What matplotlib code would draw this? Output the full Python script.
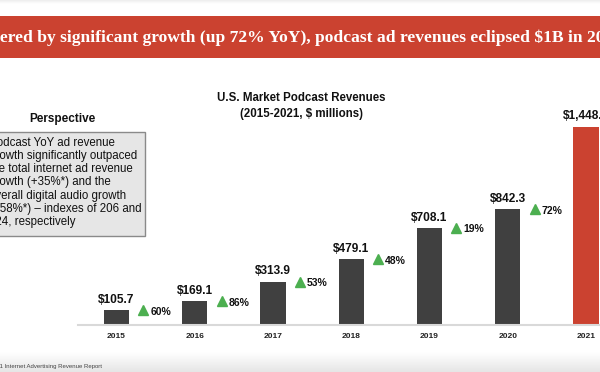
import matplotlib
matplotlib.use("Agg")
import matplotlib.pyplot as plt
import matplotlib.patches as mpatches
import numpy as np

# ---- data ---------------------------------------------------------------
years = ["2015", "2016", "2017", "2018", "2019", "2020", "2021"]
revenue = [105.7, 169.1, 313.9, 479.1, 708.1, 842.3, 1448.0]
value_labels = ["$105.7", "$169.1", "$313.9", "$479.1", "$708.1", "$842.3", "$1,448.0"]
growth = ["60%", "86%", "53%", "48%", "19%", "72%"]

headline = "Powered by significant growth (up 72% YoY), podcast ad revenues eclipsed $1B in 2021"
headline_cut = "Pow"          # hidden past the left edge of the slide crop
headline_seen = "Powered by significant growth (up 72% YoY), podcast ad revenues eclipsed $1B in 2"
chart_title = "U.S. Market Podcast Revenues\n(2015-2021, $ millions)"
box_title = "Perspective"
box_lines = [
    "Podcast YoY ad revenue",
    "growth significantly outpaced",
    "the total internet ad revenue",
    "growth (+35%*) and the",
    "overall digital audio growth",
    "(+58%*) \u2013 indexes of 206 and",
    "124, respectively",
]
footnote = "Source: IAB 2021 Internet Advertising Revenue Report"
footnote_cut = "Source: IAB 202"

DARK = "#404040"
RED = "#cb4230"
GREEN = "#4caf50"

W, H = 600, 372
fig = plt.figure(figsize=(W / 100, H / 100), dpi=100)
fig.patch.set_facecolor("white")
renderer = fig.canvas.get_renderer()


def fx(px):
    return px / W


def fy(py):  # py measured from the top
    return 1 - py / H


def text_width(s, **kw):
    t = fig.text(0, 0, s, **kw)
    w = t.get_window_extent(renderer).width
    t.remove()
    return w


# ---- background pieces ----------------------------------------------------
bg = fig.add_axes([0, 0, 1, 1], zorder=-5)
bg.set_axis_off()
top_grad = np.linspace(0.93, 1.0, 20).reshape(-1, 1)
bg.imshow(top_grad, cmap="gray", vmin=0, vmax=1, extent=[0, W, 4, 0], aspect="auto")
bot_grad = np.linspace(1.0, 0.9, 40).reshape(-1, 1)
bg.imshow(bot_grad, cmap="gray", vmin=0, vmax=1, extent=[0, W, H, 352], aspect="auto")
bg.add_patch(mpatches.Rectangle((0, 16), W, 42, color=RED, lw=0))
bg.set_xlim(0, W)
bg.set_ylim(H, 0)

# headline: size it so "ered ... in 2" + half of "0" fills the slide width
hl_kw = dict(fontweight="bold", family="Liberation Serif", color="white")
seen = (text_width(headline_seen, fontsize=10, **hl_kw)
        - text_width(headline_cut, fontsize=10, **hl_kw)
        + 0.5 * text_width("0", fontsize=10, **hl_kw))
hl_size = 10 * W / seen
off = text_width(headline_cut, fontsize=hl_size, **hl_kw)
fig.text(fx(-off), fy(38), headline, ha="left", va="center", fontsize=hl_size, **hl_kw)

# ---- perspective box ------------------------------------------------------
fig.text(fx(62), fy(119), box_title, ha="center", va="center",
         fontsize=8.5, fontweight="bold", family="Liberation Sans", color="#111111")
bg.add_patch(mpatches.Rectangle((-5, 132), 150, 104, facecolor="#e6e6e6",
                                edgecolor="#8a8a8a", lw=1))
fig.text(fx(-11), fy(136.5), "\n".join(box_lines), ha="left", va="top",
         fontsize=8.3, family="Liberation Sans", color="#111111", linespacing=1.14)

# ---- chart title ----------------------------------------------------------
fig.text(fx(301), fy(106), chart_title, ha="center", va="center", fontsize=8.3,
         fontweight="bold", family="Liberation Sans", color="#111111", linespacing=1.4)

# ---- bar chart ------------------------------------------------------------
ax_h = 240
ax = fig.add_axes([fx(78), (H - 324.5) / H, fx(W - 78), ax_h / H])
ax.set_facecolor("none")
x = np.arange(len(years))
colors = [DARK] * (len(years) - 1) + [RED]
ax.bar(x, revenue, width=0.32, color=colors, zorder=2)
ax.set_xlim(-0.492, 6.179)
ax.set_ylim(0, ax_h / 0.1367)

for i, (v, lab) in enumerate(zip(revenue, value_labels)):
    ax.annotate(lab, (i, v), xytext=(0, 7.3), textcoords="offset points",
                ha="center", va="center", fontsize=8.6, fontweight="bold",
                family="Liberation Sans", color="#111111", annotation_clip=False)

for i, g in enumerate(growth):
    v = revenue[i]
    ax.plot(i + 0.345, v, marker="^", markersize=7.8, color=GREEN, ls="none",
            clip_on=False)
    ax.annotate(g, (i + 0.435, v), xytext=(0, -1.2), textcoords="offset points",
                ha="left", va="center", fontsize=7.5, fontweight="bold",
                family="Liberation Sans", color="#111111", annotation_clip=False)

ax.set_xticks(x)
ax.set_xticklabels(years, fontsize=6, fontweight="bold", family="Liberation Sans",
                   color="#222222")
ax.tick_params(axis="x", length=0, pad=6)
ax.set_yticks([])
for side in ["top", "right", "left"]:
    ax.spines[side].set_visible(False)
ax.spines["bottom"].set_color("#d9d9d9")
ax.spines["bottom"].set_linewidth(1.5)

# ---- footnote (left part cut off) -----------------------------------------
fn_kw = dict(fontsize=4.3, family="Liberation Sans", color="#444444")
off = text_width(footnote_cut, **fn_kw)
fig.text(fx(-off), fy(366.5), footnote, ha="left", va="center", **fn_kw)

fig.savefig("out.png", dpi=100)
